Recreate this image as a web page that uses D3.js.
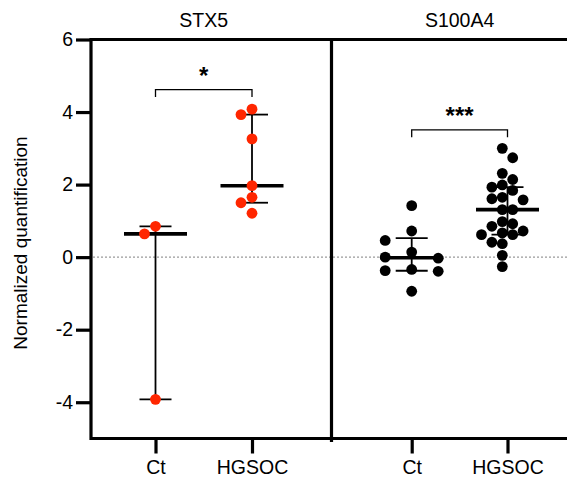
<!DOCTYPE html>
<html>
<head>
<meta charset="utf-8">
<script src="https://cdn.jsdelivr.net/npm/d3@7"></script>
<style>
  body { margin: 0; background: #fff; }
  svg { display: block; font-family: "Liberation Sans", Arial, sans-serif; }
</style>
</head>
<body>
<div id="chart"></div>
<script>
// values
const genes = ['STX5', 'S100A4'];
const groups = ['Ct', 'HGSOC'];
const yTicks = [-4, -2, 0, 2, 4, 6];

const stx5Ct = [0.85, 0.64, -3.92];
const stx5Hgsoc = [4.08, 3.93, 3.26, 1.97, 1.65, 1.50, 1.21];
const s100a4Ct = [1.42, 0.72, 0.46, 0.14, 0.00, -0.03, -0.34, -0.37, -0.39, -0.94];
const s100a4Hgsoc = [3.00, 2.74, 2.31, 2.14, 1.99, 1.93, 1.84, 1.65, 1.61, 1.58, 1.31, 1.31,
  0.98, 0.92, 0.85, 0.72, 0.67, 0.62, 0.62, 0.41, 0.37, 0.05, -0.26];

const stars = ['*', '***'];
const bracketLevel = [4.62, 3.51];

const WIDTH = 567;
const HEIGHT = 489;
const DOT_R = 5.4;
const AXIS_W = 3.2;

const panels = [
  { gene: genes[0], color: '#ff2600', series: [stx5Ct, stx5Hgsoc],
    inner: [64.5, 161], layout: [{ step: 11, even: false }, { step: 11, even: false }] },
  { gene: genes[1], color: '#000', series: [s100a4Ct, s100a4Hgsoc],
    inner: [80.2, 176], layout: [{ step: 26.5, even: false }, { step: 10.4, even: true }] },
];

// Prism style quartiles: position (n + 1) * p
function quartile(values, p) {
  const s = values.slice().sort(d3.ascending);
  const n = s.length;
  const pos = (n + 1) * p;
  const lo = Math.max(1, Math.min(n, Math.floor(pos)));
  const hi = Math.max(1, Math.min(n, Math.ceil(pos)));
  const frac = pos - Math.floor(pos);
  return s[lo - 1] + (s[hi - 1] - s[lo - 1]) * frac;
}

// column-grid scatter so dots do not pile up
function scatter(values, y, opts) {
  const pts = values.map(v => ({ v, py: y(v) })).sort((a, b) => a.py - b.py);
  const cands = [];
  for (let k = 0; k < 8; k++) {
    if (opts.even) cands.push(-(k + 0.5), k + 0.5);
    else if (k === 0) cands.push(0);
    else cands.push(-k, k);
  }
  const last = new Map();
  pts.forEach(d => {
    for (const c of cands) {
      const l = last.get(c);
      if (l === undefined || d.py - l >= DOT_R * 2) {
        d.off = c * opts.step;
        last.set(c, d.py);
        break;
      }
    }
  });
  return pts;
}

const svg = d3.select('#chart').append('svg')
  .attr('width', WIDTH)
  .attr('height', HEIGHT);

const y = d3.scaleLinear().domain([-5, 6]).range([438.5, 39.5]);

const outer = d3.scaleBand().domain(genes).range([91, 572]).paddingInner(0).paddingOuter(0);

// zero reference line
svg.append('line')
  .attr('x1', 93).attr('x2', WIDTH)
  .attr('y1', y(0)).attr('y2', y(0))
  .attr('stroke', '#9a9a9a')
  .attr('stroke-width', 1.2)
  .attr('stroke-dasharray', '2,2');

// y axis
const yAxis = svg.append('g')
  .attr('transform', `translate(${outer(genes[0])},0)`)
  .call(d3.axisLeft(y).tickValues(yTicks).tickSize(15).tickPadding(3).tickFormat(d => String(d)));
yAxis.select('.domain').remove();
yAxis.selectAll('.tick line').attr('stroke-width', AXIS_W);
yAxis.selectAll('.tick text')
  .attr('font-size', 19.5)
  .attr('font-family', '"Liberation Sans", Arial, sans-serif')
  .attr('fill', '#000');

svg.append('text')
  .attr('transform', `translate(27,${(y(6) + y(-5)) / 2 + 4}) rotate(-90)`)
  .attr('text-anchor', 'middle')
  .attr('font-size', 19)
  .text('Normalized quantification');

panels.forEach((p, pi) => {
  const x0 = outer(p.gene);
  const x = d3.scalePoint().domain(groups).range([x0 + p.inner[0], x0 + p.inner[1]]);

  const xAxis = svg.append('g')
    .attr('transform', `translate(0,${y(-5)})`)
    .call(d3.axisBottom(x).tickSize(15).tickPadding(7));
  xAxis.select('.domain').remove();
  xAxis.selectAll('.tick line').attr('stroke-width', AXIS_W);
  xAxis.selectAll('.tick text')
    .attr('font-size', 19.5)
    .attr('font-family', '"Liberation Sans", Arial, sans-serif')
    .attr('fill', '#000');

  // panel title
  svg.append('text')
    .attr('x', (x(groups[0]) + x(groups[1])) / 2)
    .attr('y', 26.5)
    .attr('text-anchor', 'middle')
    .attr('font-size', 19.5)
    .text(p.gene);

  const g = svg.append('g');

  p.series.forEach((vals, gi) => {
    const cx = x(groups[gi]);
    const med = d3.median(vals);
    const q1 = quartile(vals, 0.25);
    const q3 = quartile(vals, 0.75);

    g.append('line')
      .attr('x1', cx).attr('x2', cx)
      .attr('y1', y(q1)).attr('y2', y(q3))
      .attr('stroke', '#000').attr('stroke-width', 1.8);
    [q1, q3].forEach(q => {
      g.append('line')
        .attr('x1', cx - 16).attr('x2', cx + 16)
        .attr('y1', y(q)).attr('y2', y(q))
        .attr('stroke', '#000').attr('stroke-width', 1.8);
    });
    g.append('line')
      .attr('x1', cx - 31.5).attr('x2', cx + 31.5)
      .attr('y1', y(med)).attr('y2', y(med))
      .attr('stroke', '#000').attr('stroke-width', 3.6);

    g.selectAll(null)
      .data(scatter(vals, y, p.layout[gi]))
      .join('circle')
      .attr('cx', d => cx + d.off)
      .attr('cy', d => d.py)
      .attr('r', DOT_R)
      .attr('fill', p.color);
  });

  // significance bracket
  const by = y(bracketLevel[pi]);
  const xa = x(groups[0]);
  const xb = x(groups[1]);
  svg.append('path')
    .attr('d', `M${xa},${by + 7.5}V${by}H${xb}V${by + 7.5}`)
    .attr('fill', 'none')
    .attr('stroke', '#000')
    .attr('stroke-width', 1.3);
  svg.append('text')
    .attr('x', (xa + xb) / 2)
    .attr('y', by - 6)
    .attr('text-anchor', 'middle')
    .attr('font-size', 24)
    .attr('font-weight', 'bold')
    .text(stars[pi]);
});

// frame
const frame = svg.append('g')
  .attr('stroke', '#000')
  .attr('stroke-width', AXIS_W)
  .attr('stroke-linecap', 'square')
  .attr('fill', 'none');
frame.append('path')
  .attr('d', `M${outer.range()[1]},${y(6)}H${outer(genes[0])}V${y(-5)}H${outer.range()[1]}`);
frame.append('line')
  .attr('x1', outer(genes[1])).attr('x2', outer(genes[1]))
  .attr('y1', y(6)).attr('y2', y(-5) + 2);
</script>
</body>
</html>
